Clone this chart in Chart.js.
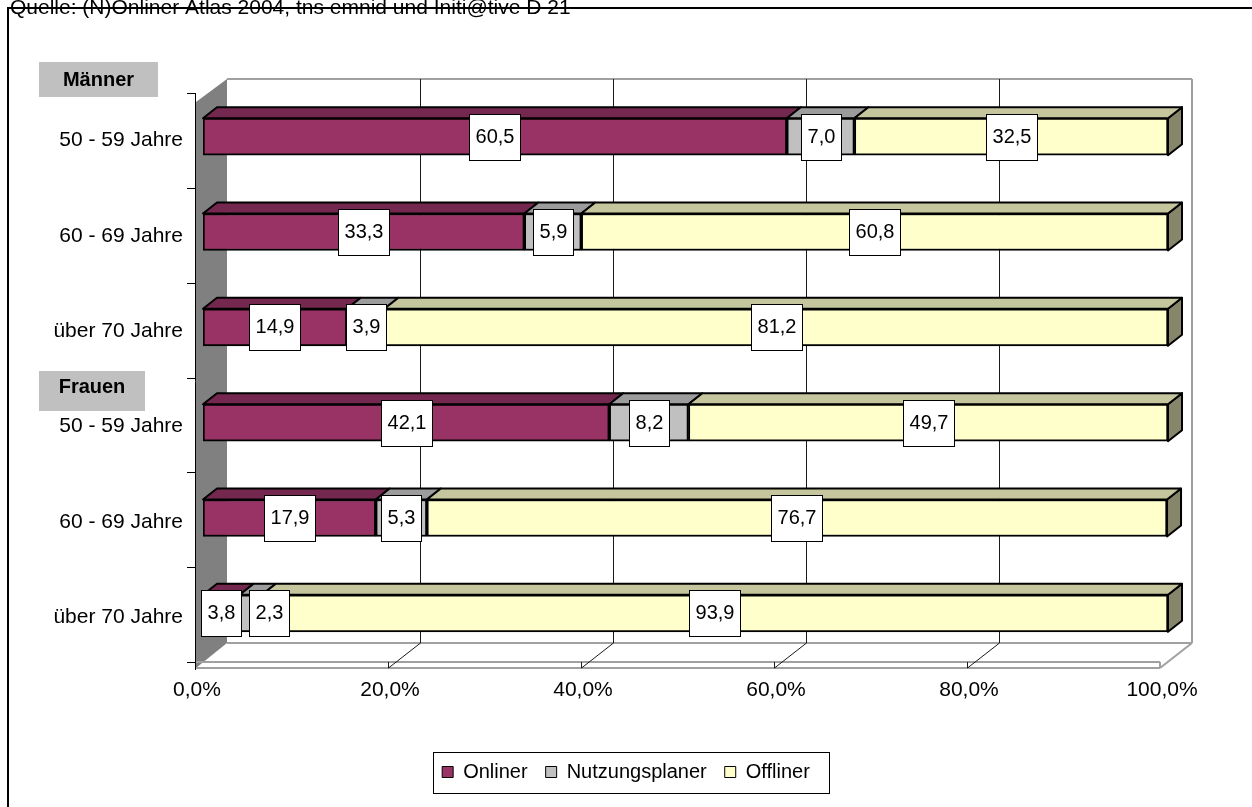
<!DOCTYPE html>
<html><head><meta charset="utf-8">
<script src="https://cdn.jsdelivr.net/npm/chart.js@4/dist/chart.umd.min.js"></script>
<style>html,body{margin:0;padding:0;background:#fff}canvas{display:block}</style>
</head><body>
<canvas id="c" width="1252" height="807"></canvas>
<script>
const categories = ['50 - 59 Jahre','60 - 69 Jahre','über 70 Jahre','50 - 59 Jahre','60 - 69 Jahre','über 70 Jahre'];
const groupLabels = ['Männer','Frauen'];
const seriesNames = ['Onliner','Nutzungsplaner','Offliner'];
const onliner = [60.5, 33.3, 14.9, 42.1, 17.9, 3.8];
const nutzungsplaner = [7.0, 5.9, 3.9, 8.2, 5.3, 2.3];
const offliner = [32.5, 60.8, 81.2, 49.7, 76.7, 93.9];
const xTicks = [0, 20, 40, 60, 80, 100];
const sourceText = 'Quelle: (N)Onliner Atlas 2004, tns emnid und Initi@tive D 21';

const FONT = '"Liberation Sans", Arial, sans-serif';
const frontColors = ['#993366', '#C0C0C0', '#FFFFCC'];
const topColors = ['#75284F', '#9C9C9C', '#C6C69E'];
const sideColors = ['#5A1E3C', '#7A7A7A', '#86866A'];
const fmt = v => v.toFixed(1).replace('.', ',');

function ln(ctx, x1, y1, x2, y2) { ctx.beginPath(); ctx.moveTo(x1, y1); ctx.lineTo(x2, y2); ctx.stroke(); }

const scene = {
  id: 'scene',
  beforeDraw(chart) {
    const ctx = chart.ctx;
    ctx.save(); ctx.fillStyle = '#fff'; ctx.fillRect(0, 0, chart.width, chart.height); ctx.restore();
  },
  beforeDatasetsDraw(chart) {
    const { ctx, chartArea: a, scales: { x } } = chart;
    const fx = v => Math.round(x.getPixelForValue(v)) - 8;
    const bx = v => Math.round(x.getPixelForValue(v)) + 24;
    const fT = a.top + 4, fB = a.bottom + 1, bT = a.top - 10, bB = a.bottom - 18, sB = a.bottom + 7;
    ctx.save();
    // left wall
    ctx.fillStyle = '#808080';
    ctx.beginPath();
    ctx.moveTo(fx(0) + 1, a.top + 13); ctx.lineTo(bx(0), bT); ctx.lineTo(bx(0), bB); ctx.lineTo(fx(0) + 1, sB);
    ctx.closePath(); ctx.fill();
    // floor
    ctx.strokeStyle = '#a0a0a0'; ctx.lineWidth = 2;
    ln(ctx, bx(0), bB, bx(100), bB);
    ln(ctx, fx(0), fB, fx(100), fB);
    ln(ctx, fx(0), sB, fx(100), sB);
    ln(ctx, fx(100), fB, fx(100), sB);
    ln(ctx, fx(100), sB, bx(100), bB);
    // back wall border
    ln(ctx, bx(0), bT, bx(100), bT);
    ln(ctx, bx(100), bT, bx(100), bB);
    // gridlines
    ctx.strokeStyle = '#1a1a1a'; ctx.lineWidth = 1;
    xTicks.slice(1, -1).forEach(v => {
      ln(ctx, bx(v) + 0.5, bT, bx(v) + 0.5, bB);
      ln(ctx, fx(v) + 0.5, sB, bx(v) + 0.5, bB);
      ln(ctx, fx(v) + 0.5, fB, fx(v) + 0.5, sB);
    });
    // y axis at front
    ctx.strokeStyle = '#000';
    ln(ctx, fx(0) + 0.5, fT, fx(0) + 0.5, sB + 2);
    const n = categories.length;
    for (let k = 0; k <= n; k++) {
      const y = Math.round(fT + k * (fB - fT) / n) + 0.5;
      ln(ctx, fx(0) - 8, y, fx(0) + 0.5, y);
    }
    // 3D faces of bars
    const dx = 14, dy = 11;
    ctx.lineWidth = 2; ctx.lineJoin = 'round'; ctx.strokeStyle = '#000';
    const metas = chart.data.datasets.map((d, i) => chart.getDatasetMeta(i));
    for (let r = 0; r < n; r++) {
      const last = metas[metas.length - 1].data[r];
      const R = Math.max(last.x, last.base), yT = last.y - last.height / 2, yB = last.y + last.height / 2;
      ctx.fillStyle = sideColors[metas.length - 1];
      ctx.beginPath(); ctx.moveTo(R, yT); ctx.lineTo(R + dx, yT - dy); ctx.lineTo(R + dx, yB - dy); ctx.lineTo(R, yB); ctx.closePath();
      ctx.fill(); ctx.stroke();
      metas.forEach((m, di) => {
        const el = m.data[r];
        const L = Math.min(el.x, el.base), Rr = Math.max(el.x, el.base), t = el.y - el.height / 2;
        ctx.fillStyle = topColors[di];
        ctx.beginPath(); ctx.moveTo(L, t); ctx.lineTo(Rr, t); ctx.lineTo(Rr + dx, t - dy); ctx.lineTo(L + dx, t - dy); ctx.closePath();
        ctx.fill(); ctx.stroke();
      });
    }
    ctx.restore();
  },
  afterDatasetsDraw(chart) {
    const ctx = chart.ctx;
    ctx.save();
    ctx.font = '20px ' + FONT;
    ctx.textAlign = 'center'; ctx.textBaseline = 'middle';
    const n = categories.length;
    for (let r = 0; r < n; r++) {
      let prevRight = -Infinity;
      chart.data.datasets.forEach((ds, di) => {
        const el = chart.getDatasetMeta(di).data[r];
        const txt = fmt(ds.data[r]);
        const w = Math.round(ctx.measureText(txt).width) + 12, h = 46;
        const cx = (el.x + el.base) / 2;
        let left = Math.round(cx - w / 2);
        if (left < prevRight + 8) left = prevRight + 8;
        const top = Math.round(el.y - h / 2);
        ctx.fillStyle = '#fff'; ctx.fillRect(left, top, w, h);
        ctx.strokeStyle = '#000'; ctx.lineWidth = 1; ctx.strokeRect(left + 0.5, top + 0.5, w, h);
        ctx.fillStyle = '#000'; ctx.fillText(txt, left + w / 2 + 0.5, top + h / 2);
        prevRight = left + w;
      });
    }
    ctx.restore();
  },
  afterDraw(chart) {
    const ctx = chart.ctx;
    ctx.save();
    ctx.strokeStyle = '#000'; ctx.lineWidth = 2;
    ctx.strokeRect(8, 8, 1300, 860);
    ctx.fillStyle = '#000'; ctx.font = '21px ' + FONT; ctx.textAlign = 'left'; ctx.textBaseline = 'alphabetic';
    ctx.fillText(sourceText, 10, 14);
    ctx.font = 'bold 20px ' + FONT; ctx.textAlign = 'center';
    ctx.fillStyle = '#C0C0C0'; ctx.fillRect(39, 62, 119, 35);
    ctx.fillStyle = '#000'; ctx.fillText(groupLabels[0], 98.5, 86);
    ctx.fillStyle = '#C0C0C0'; ctx.fillRect(39, 371, 106, 40);
    ctx.fillStyle = '#000'; ctx.fillText(groupLabels[1], 92, 393);
    const hb = chart.legend.legendHitBoxes;
    if (hb && hb.length) {
      const l = hb[0].left - 9, lastB = hb[hb.length - 1];
      const r = lastB.left + lastB.width + 19;
      const cy = hb[0].top + hb[0].height / 2;
      ctx.strokeStyle = '#000'; ctx.lineWidth = 1;
      ctx.strokeRect(Math.round(l) + 0.5, Math.round(cy - 20) + 0.5, Math.round(r - l), 41);
    }
    ctx.restore();
  }
};

const datasetValues = [onliner, nutzungsplaner, offliner];
new Chart(document.getElementById('c'), {
  type: 'bar',
  data: {
    labels: categories,
    datasets: seriesNames.map((name, i) => ({
      label: name,
      data: datasetValues[i],
      backgroundColor: frontColors[i],
      borderColor: '#000',
      borderWidth: 2,
      borderSkipped: false,
      barThickness: 37
    }))
  },
  options: {
    indexAxis: 'y',
    responsive: false,
    animation: false,
    events: [],
    layout: { padding: { top: 89, left: 0, right: 0, bottom: 15 } },
    scales: {
      x: {
        type: 'linear', stacked: true, min: 0, max: 100,
        grid: { display: false }, border: { display: false },
        ticks: { stepSize: 20, labelOffset: -6, padding: 9, color: '#000', font: { family: FONT, size: 21 },
                 callback: v => fmt(v) + '%' },
        afterBuildTicks: s => { s.ticks = xTicks.map(v => ({ value: v })); },
        afterFit: s => { s.height = 83; }
      },
      y: {
        type: 'category', stacked: true,
        grid: { display: false }, border: { display: false },
        ticks: { padding: 12, labelOffset: 4, color: '#000', font: { family: FONT, size: 21 } },
        afterFit: s => { s.width = 203; }
      },
      y2: {
        type: 'category', position: 'right', display: true,
        grid: { display: false }, border: { display: false },
        ticks: { display: false },
        afterFit: s => { s.width = 84; }
      }
    },
    plugins: {
      tooltip: { enabled: false },
      legend: {
        position: 'bottom',
        labels: {
          boxWidth: 11, boxHeight: 11, padding: 18, color: '#000',
          font: { family: FONT, size: 20 },
          generateLabels: chart => Chart.defaults.plugins.legend.labels.generateLabels(chart).map(l => ({ ...l, lineWidth: 1 }))
        }
      }
    }
  },
  plugins: [scene]
});
</script>
</body></html>
